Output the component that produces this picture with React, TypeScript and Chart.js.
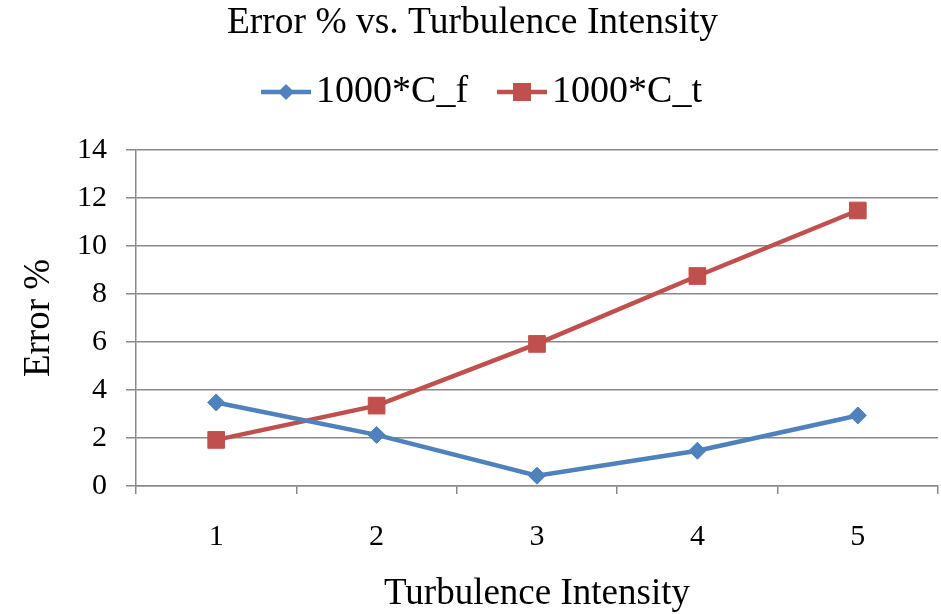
import React, { useEffect, useRef } from 'react';
import { Chart, registerables } from 'chart.js';

Chart.register(...registerables);

const categories = ['1', '2', '3', '4', '5'];
const cfValues = [3.48, 2.13, 0.43, 1.47, 2.94];
const ctValues = [1.92, 3.35, 5.92, 8.75, 11.48];
const seriesNames = ['1000*C_f', '1000*C_t'];
const yMin = 0;
const yMax = 14;
const yStep = 2;
const chartTitle = 'Error % vs. Turbulence Intensity';
const xTitle = 'Turbulence Intensity';
const yTitle = 'Error %';

const BLUE = '#4F81BD';
const RED = '#C0504D';
const GRID = '#8a8a8a';
const FONT = '"Liberation Serif", "Times New Roman", serif';

function makeLegendIcon(color: string, kind: 'diamond' | 'square') {
  const c = document.createElement('canvas');
  c.width = 84;
  c.height = 24;
  const ctx = c.getContext('2d')!;
  const cx = 58;
  const cy = 12;
  ctx.strokeStyle = color;
  ctx.lineWidth = 4.5;
  ctx.beginPath();
  ctx.moveTo(cx - 25, cy);
  ctx.lineTo(cx + 25, cy);
  ctx.stroke();
  ctx.fillStyle = color;
  if (kind === 'diamond') {
    ctx.beginPath();
    ctx.moveTo(cx - 8, cy);
    ctx.lineTo(cx, cy - 8);
    ctx.lineTo(cx + 8, cy);
    ctx.lineTo(cx, cy + 8);
    ctx.closePath();
    ctx.fill();
  } else {
    ctx.fillRect(cx - 9, cy - 9, 18, 18);
  }
  return c;
}

export default function App() {
  const ref = useRef<HTMLCanvasElement | null>(null);

  useEffect(() => {
    if (!ref.current) return;
    const icons = [makeLegendIcon(BLUE, 'diamond'), makeLegendIcon(RED, 'square')];
    const chart = new Chart(ref.current, {
      type: 'line',
      data: {
        labels: categories,
        datasets: [
          {
            label: seriesNames[0],
            data: cfValues,
            borderColor: BLUE,
            backgroundColor: BLUE,
            borderWidth: 4.5,
            pointStyle: 'rectRot',
            pointRadius: 8.5,
            pointBorderWidth: 1,
            pointBackgroundColor: BLUE,
            pointBorderColor: BLUE,
            tension: 0,
          },
          {
            label: seriesNames[1],
            data: ctValues,
            borderColor: RED,
            backgroundColor: RED,
            borderWidth: 4.5,
            pointStyle: 'rect',
            pointRadius: 11.8,
            pointBorderWidth: 1,
            pointBackgroundColor: RED,
            pointBorderColor: RED,
            tension: 0,
          },
        ],
      },
      options: {
        responsive: false,
        animation: false,
        layout: { autoPadding: false, padding: { left: 7, right: 3, top: 0, bottom: 0 } },
        plugins: {
          title: {
            display: true,
            text: chartTitle,
            color: '#000',
            font: { family: FONT, size: 37.5, weight: 'normal' },
            padding: { top: 1, bottom: 16 },
          },
          subtitle: {
            display: true,
            text: '',
            weight: 500,
            font: { family: FONT, size: 10 },
            padding: { top: 17, bottom: 0 },
          } as any,
          legend: {
            display: true,
            position: 'top',
            labels: {
              color: '#000',
              font: { family: FONT, size: 38 },
              usePointStyle: true,
              pointStyleWidth: 54,
              padding: 11,
              generateLabels: (c: any) => {
                const items = (Chart.defaults.plugins.legend.labels as any).generateLabels(c);
                items.forEach((it: any, i: number) => {
                  it.pointStyle = icons[i];
                });
                return items;
              },
            },
          },
          tooltip: { enabled: false },
        },
        scales: {
          x: {
            type: 'category',
            offset: true,
            afterFit: (s: any) => {
              s.height = 128;
              s.paddingLeft = 0;
              s.paddingRight = 0;
            },
            grid: {
              display: true,
              drawOnChartArea: false,
              drawTicks: true,
              offset: true,
              tickLength: 8,
              color: GRID,
              lineWidth: 1.5,
            },
            border: { display: true, color: GRID, width: 1.5 },
            ticks: {
              color: '#000',
              font: { family: FONT, size: 30 },
              padding: 25,
              maxRotation: 0,
            },
            title: {
              display: true,
              text: xTitle,
              color: '#000',
              font: { family: FONT, size: 37 },
              padding: { top: 0, bottom: -2 },
            },
          },
          y: {
            min: yMin,
            max: yMax,
            afterFit: (s: any) => {
              s.width = 129;
            },
            grid: {
              display: true,
              drawTicks: true,
              tickLength: 10,
              color: GRID,
              lineWidth: 1.5,
            },
            border: { display: true, color: GRID, width: 1.5 },
            ticks: {
              stepSize: yStep,
              color: '#000',
              font: { family: FONT, size: 30 },
              padding: 19,
            },
            title: {
              display: true,
              text: yTitle,
              color: '#000',
              font: { family: FONT, size: 37 },
              padding: { top: 10, bottom: 0 },
            },
          },
        },
      } as any,
    });
    return () => chart.destroy();
  }, []);

  return (
    <div style={{ position: 'fixed', left: 0, top: 0, width: 941, height: 614, background: '#fff' }}>
      <canvas ref={ref} width={941} height={614} style={{ width: 941, height: 614, display: 'block' }} />
    </div>
  );
}
